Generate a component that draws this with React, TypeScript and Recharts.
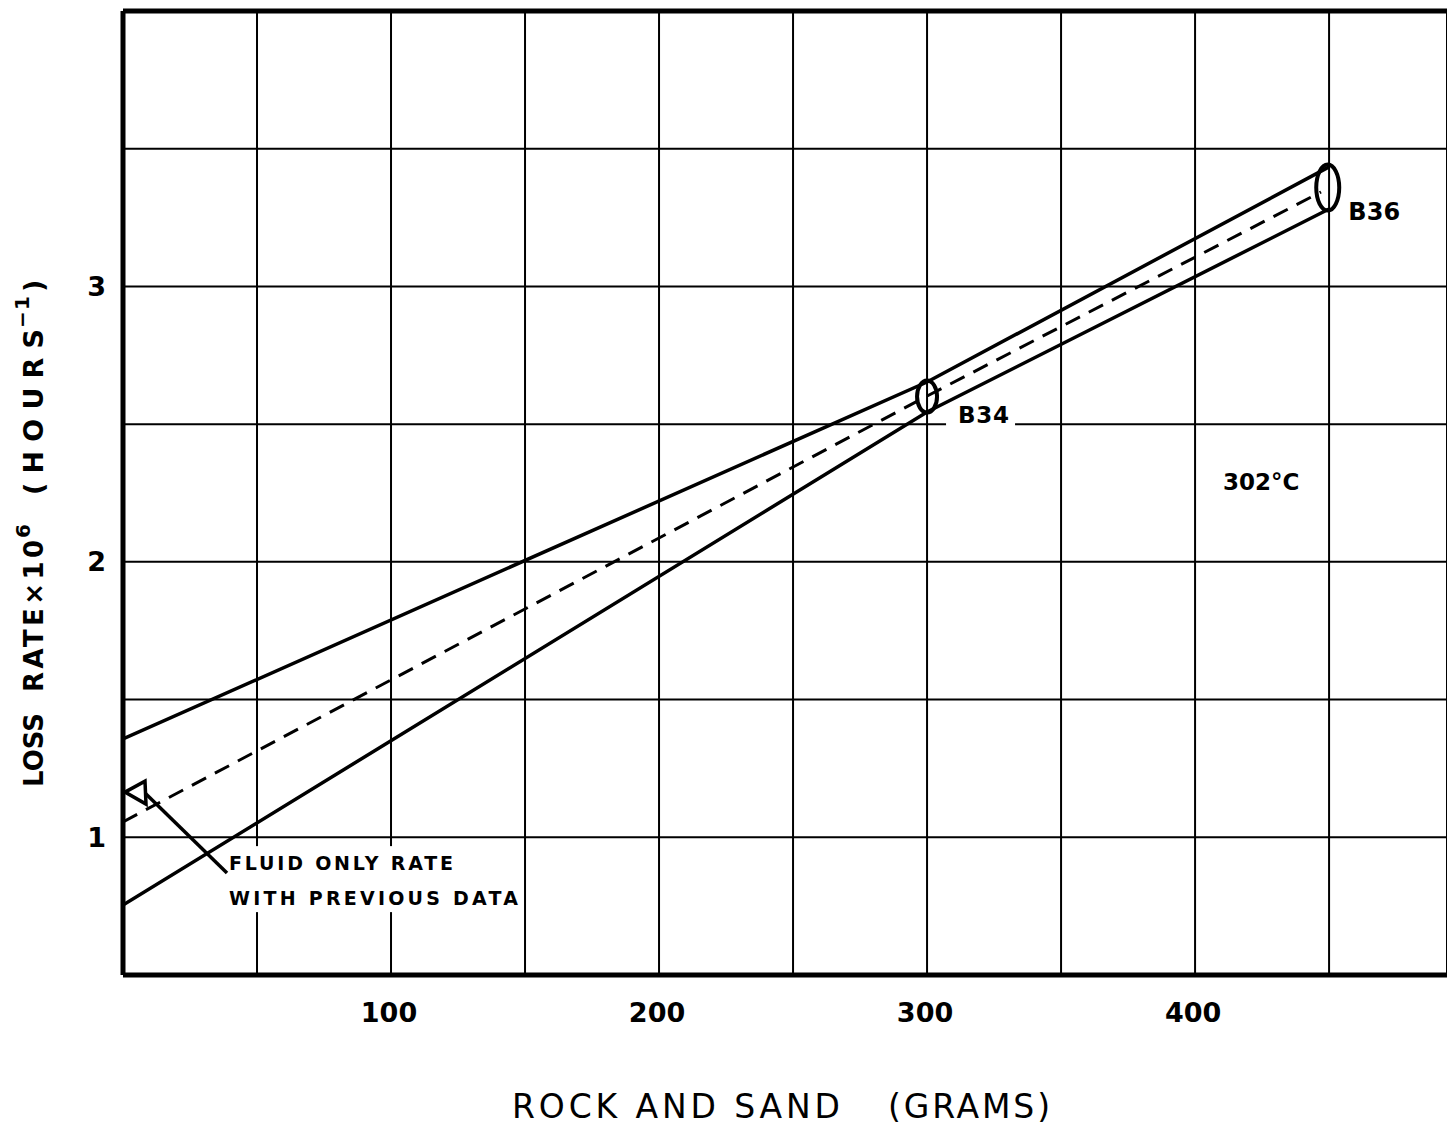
import React from 'react';
import { ComposedChart, Line, Scatter, XAxis, YAxis, CartesianGrid, ReferenceLine } from 'recharts';

const FONT = '"DejaVu Sans", sans-serif';

// axes
const xTicks = [0, 50, 100, 150, 200, 250, 300, 350, 400, 450];
const xTickLabels = ['', '', '100', '', '200', '', '300', '', '400', ''];
const yTicks = [0.5, 1, 1.5, 2, 2.5, 3, 3.5, 4];
const yTickLabels = ['', '1', '', '2', '', '3', '', ''];

// solid band limits
const bandGrams = [0, 300, 450];
const upperRate = [1.357, 2.653, 3.434];
const lowerRate = [0.754, 2.544, 3.281];

// dashed fit
const fitGrams = [0, 300, 447];
const fitRate = [1.056, 2.602, 3.343];

// runs
const runNames = ['B34', 'B36'];
const runGrams = [300, 449.5];
const runRate = [2.6, 3.359];

// fluid only rate
const fluidGrams = [0];
const fluidRate = [1.164];
const fluidNote = ['FLUID ONLY RATE', 'WITH PREVIOUS DATA'];

const upperData = bandGrams.map((x, i) => ({ x, y: upperRate[i] }));
const lowerData = bandGrams.map((x, i) => ({ x, y: lowerRate[i] }));
const fitData = fitGrams.map((x, i) => ({ x, y: fitRate[i] }));
const runData = runNames.map((name, i) => ({ name, x: runGrams[i], y: runRate[i] }));
const fluidData = fluidGrams.map((x, i) => ({ x, y: fluidRate[i] }));

const runStyle: Record<string, any> = {
  B34: { rx: 10, ry: 16, tx: 31, ty: 26.5, tl: 51, fs: 23, box: [19, 16, 69, 19] },
  B36: { rx: 11.5, ry: 23, tx: 20.5, ty: 32.5, tl: 52, fs: 24, box: null },
};

const renderXTick = (props: any) => {
  const { x, y, payload } = props;
  const i = xTicks.indexOf(payload.value);
  const label = xTickLabels[i];
  if (!label) return <g />;
  return (
    <text x={x - 2} y={y + 47} textAnchor="middle" fontFamily={FONT} fontWeight="bold" fontSize={27} fill="#000">
      {label}
    </text>
  );
};

const renderYTick = (props: any) => {
  const { x, y, payload } = props;
  const i = yTicks.indexOf(payload.value);
  const label = yTickLabels[i];
  if (!label) return <g />;
  return (
    <text x={x - 17} y={y + 9.5} textAnchor="end" fontFamily={FONT} fontWeight="bold" fontSize={27} fill="#000">
      {label}
    </text>
  );
};

const RunShape = (props: any) => {
  const { cx, cy, payload } = props;
  const s = runStyle[payload.name];
  return (
    <g>
      {s.box && <rect x={cx + s.box[0]} y={cy + s.box[1]} width={s.box[2]} height={s.box[3]} fill="#fff" />}
      <ellipse cx={cx} cy={cy} rx={s.rx} ry={s.ry} fill="none" stroke="#000" strokeWidth={4} />
      <text x={cx + s.tx} y={cy + s.ty} textLength={s.tl} lengthAdjust="spacing" fontFamily={FONT} fontWeight="bold" fontSize={s.fs} fill="#000">
        {payload.name}
      </text>
    </g>
  );
};

const FluidShape = (props: any) => {
  const { cx, cy } = props;
  return (
    <g>
      <rect x={cx + 102} y={cy + 54} width={296} height={66} fill="#fff" />
      <line x1={cx + 22} y1={cy + 1} x2={cx + 104} y2={cy + 81} stroke="#000" strokeWidth={3.5} />
      <polygon
        points={`${cx + 2},${cy} ${cx + 22},${cy - 11} ${cx + 23},${cy + 12}`}
        fill="#fff"
        stroke="#000"
        strokeWidth={3.5}
      />
      <text x={cx + 106} y={cy + 78} textLength={224} lengthAdjust="spacing" fontFamily={FONT} fontWeight="bold" fontSize={19} fill="#000">
        {fluidNote[0]}
      </text>
      <text x={cx + 106} y={cy + 113} textLength={289} lengthAdjust="spacing" fontFamily={FONT} fontWeight="bold" fontSize={19} fill="#000">
        {fluidNote[1]}
      </text>
    </g>
  );
};

export default function App() {
  return (
    <div style={{ position: 'absolute', left: 0, top: 0, width: 1447, height: 1127, overflow: 'hidden', background: '#fff' }}>
      <ComposedChart width={1447} height={1127} margin={{ top: 11, right: 0, bottom: 0, left: 0 }}>
        <CartesianGrid stroke="#000" strokeWidth={2} />
        <XAxis
          type="number"
          dataKey="x"
          domain={[0, 494]}
          allowDataOverflow
          ticks={xTicks}
          interval={0}
          height={152}
          tickSize={0}
          tickMargin={0}
          tickLine={false}
          tick={renderXTick}
          axisLine={{ stroke: '#000', strokeWidth: 5 }}
        />
        <YAxis
          type="number"
          domain={[0.5, 4]}
          allowDataOverflow
          ticks={yTicks}
          interval={0}
          width={123}
          tickSize={0}
          tickMargin={0}
          tickLine={false}
          tick={renderYTick}
          axisLine={{ stroke: '#000', strokeWidth: 5 }}
        />
        <ReferenceLine y={4} stroke="#000" strokeWidth={5} />
        <Line data={upperData} dataKey="y" type="linear" stroke="#000" strokeWidth={3.5} dot={false} isAnimationActive={false} />
        <Line data={lowerData} dataKey="y" type="linear" stroke="#000" strokeWidth={3.5} dot={false} isAnimationActive={false} />
        <Line data={fitData} dataKey="y" type="linear" stroke="#000" strokeWidth={3} strokeDasharray="16 10" dot={false} isAnimationActive={false} />
        <Scatter data={fluidData} dataKey="y" shape={FluidShape} isAnimationActive={false} />
        <Scatter data={runData} dataKey="y" shape={RunShape} isAnimationActive={false} />
      </ComposedChart>
      <svg style={{ position: 'absolute', left: 0, top: 0, pointerEvents: 'none' }} width={1447} height={1127}>
        <text x={512} y={1118} textLength={328} lengthAdjust="spacing" fontFamily={FONT} fontSize={33} fill="#000">
          ROCK AND SAND
        </text>
        <text x={888} y={1118} textLength={162} lengthAdjust="spacing" fontFamily={FONT} fontSize={33} fill="#000">
          (GRAMS)
        </text>
        <g transform="translate(43,0) rotate(-90)" fontFamily={FONT} fontWeight="bold" fill="#000">
          <text x={-787} y={0} fontSize={26}>LOSS</text>
          <text x={-692} y={0} fontSize={26} textLength={152} lengthAdjust="spacing">RATE×10</text>
          <text x={-538} y={-13} fontSize={20}>6</text>
          <text x={-495} y={0} fontSize={27} textLength={166} lengthAdjust="spacing">(HOURS</text>
          <text x={-328} y={-14} fontSize={20} textLength={32} lengthAdjust="spacing">−1</text>
          <text x={-292} y={0} fontSize={27}>)</text>
        </g>
        <text x={1223} y={490} fontFamily={FONT} fontWeight="bold" fontSize={23} fill="#000">
          302°C
        </text>
      </svg>
    </div>
  );
}
